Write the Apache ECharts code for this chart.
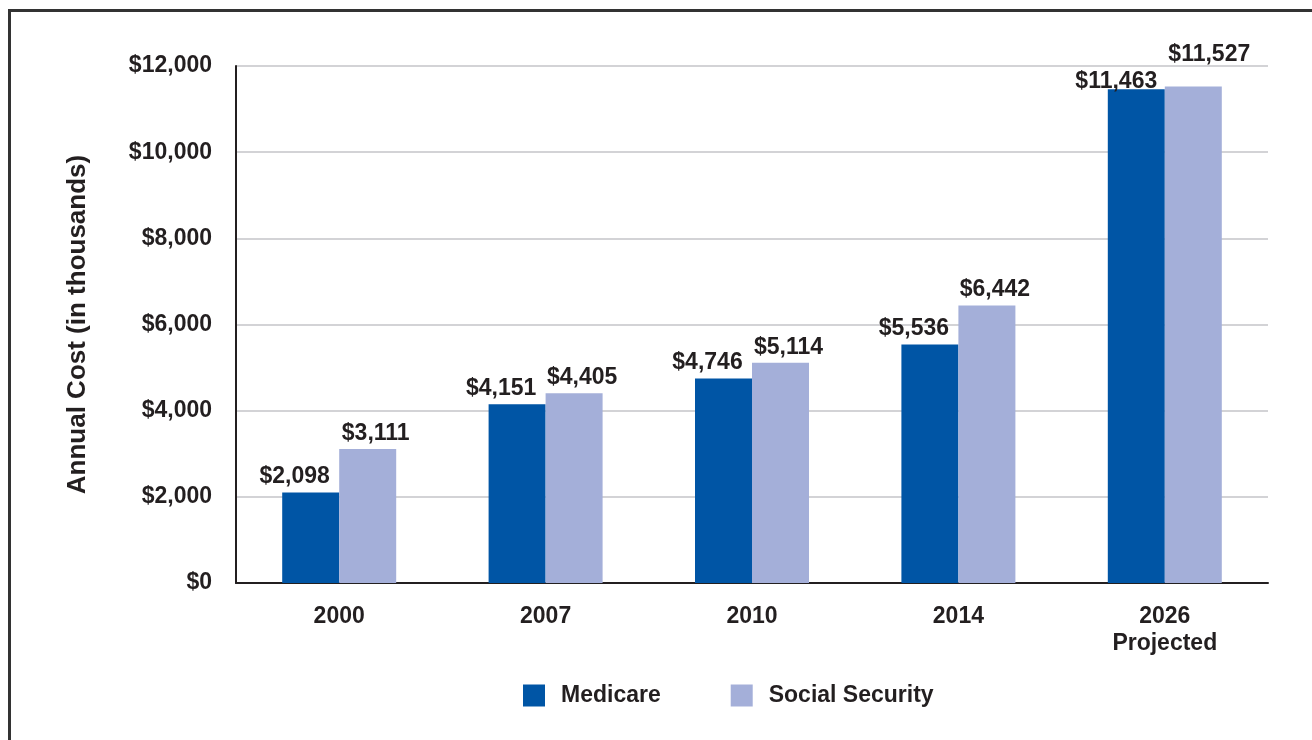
<!DOCTYPE html>
<html>
<head>
<meta charset="utf-8">
<script src="https://cdn.jsdelivr.net/npm/echarts@6/dist/echarts.min.js"></script>
<style>
html,body{margin:0;padding:0;background:#fff;}
#chart{width:1312px;height:740px;}
</style>
</head>
<body>
<div id="chart"></div>
<script>
const categories = ['2000', '2007', '2010', '2014', '2026\nProjected'];
const medicare = [2098, 4151, 4746, 5536, 11463];
const socialSecurity = [3111, 4405, 5114, 6442, 11527];
const seriesNames = ['Medicare', 'Social Security'];
const yTicks = { min: 0, max: 12000, interval: 2000 };

const FONT = '"Liberation Sans", Arial, sans-serif';
const TXT = '#231f20';
const fmt = v => '$' + v.toLocaleString('en-US');

function items(values, normalOffset, lastOffset) {
  return values.map((v, i) => i === values.length - 1
    ? { value: v, label: { offset: lastOffset } }
    : { value: v, label: { offset: normalOffset } });
}

const chart = echarts.init(document.getElementById('chart'));
chart.setOption({
  animation: false,
  backgroundColor: '#fff',
  textStyle: { fontFamily: FONT },
  graphic: [{
    type: 'rect',
    shape: { x: 9.5, y: 10.5, width: 1330, height: 760 },
    style: { fill: 'none', stroke: '#333333', lineWidth: 3 },
    silent: true
  }],
  grid: { left: 236, right: 44, top: 66, bottom: 157, containLabel: false },
  legend: {
    data: seriesNames,
    left: 523,
    top: 684,
    padding: 0,
    itemWidth: 22,
    itemHeight: 22,
    itemGap: 70,
    icon: 'rect',
    textStyle: { fontFamily: FONT, fontSize: 23, fontWeight: 'bold', color: TXT, padding: [0, 0, 0, 11] }
  },
  xAxis: {
    type: 'category',
    data: categories,
    axisLine: { lineStyle: { color: TXT, width: 2 } },
    axisTick: { show: false },
    axisLabel: {
      fontFamily: FONT, fontSize: 23, fontWeight: 'bold', color: TXT,
      margin: 20, lineHeight: 27, interval: 0
    }
  },
  yAxis: {
    type: 'value',
    min: yTicks.min, max: yTicks.max, interval: yTicks.interval,
    name: 'Annual Cost (in thousands)',
    nameLocation: 'middle',
    nameGap: 145,
    nameTextStyle: { fontFamily: FONT, fontSize: 26, fontWeight: 'bold', color: TXT },
    axisLine: { show: true, lineStyle: { color: TXT, width: 2 } },
    axisTick: { show: false },
    splitLine: { lineStyle: { color: '#c4c4c8', width: 1.5 } },
    axisLabel: {
      fontFamily: FONT, fontSize: 23, fontWeight: 'bold', color: TXT, margin: 24,
      formatter: v => fmt(v)
    }
  },
  series: [
    {
      name: seriesNames[0], type: 'bar', data: items(medicare, [-16, 0], [-20, 8]),
      barWidth: 57, barGap: '0%',
      itemStyle: { color: '#0055a5' },
      label: { show: true, position: 'top', distance: 4, fontFamily: FONT, fontSize: 23, fontWeight: 'bold', color: TXT, formatter: p => fmt(p.value) }
    },
    {
      name: seriesNames[1], type: 'bar', data: items(socialSecurity, [8, 0], [16, -16]),
      barWidth: 57, barGap: '0%',
      itemStyle: { color: '#a4afd9' },
      label: { show: true, position: 'top', distance: 4, fontFamily: FONT, fontSize: 23, fontWeight: 'bold', color: TXT, formatter: p => fmt(p.value) }
    }
  ]
});
</script>
</body>
</html>
